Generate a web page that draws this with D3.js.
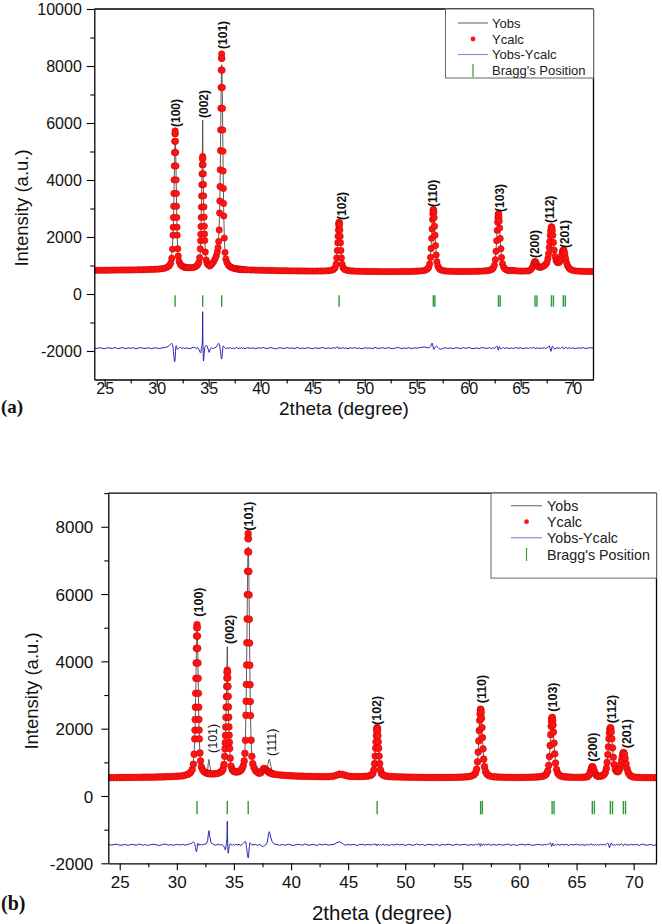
<!DOCTYPE html>
<html><head><meta charset="utf-8">
<script src="https://cdn.jsdelivr.net/npm/d3@7/dist/d3.min.js"></script>
<style>
body{margin:0;background:#fff;}
svg{display:block;font-family:"Liberation Sans",Arial,sans-serif;}
</style></head><body>
<svg id="chart" width="662" height="924"></svg>
<script>
// ---------------- DATA ----------------
const twoTheta = [
24,24.25,24.5,24.75,25,25.25,25.5,25.75,26,26.25,26.5,26.75,27,27.25,27.5,27.75,28,28.25,28.5,28.75,29,29.25,29.5,29.75,30,30.25,30.5,
30.75,31,31.2,31.35,31.45,31.52,31.57,
31.59,31.61,31.63,31.65,31.67,31.69,31.71,31.73,31.75,31.77,31.79,31.81,31.83,31.85,31.87,31.89,31.91,31.93,31.95,31.97,
32.02,32.07,32.15,32.27,32.4,32.55,32.7,32.76,32.82,32.88,33,33.2,33.4,33.6,33.8,33.95,34.05,34.13,34.19,
34.22,34.24,34.26,34.28,34.3,34.32,34.34,34.36,34.38,34.4,34.42,34.44,34.46,34.48,34.5,34.52,34.54,34.56,34.58,34.6,34.62,
34.67,34.75,34.85,34.95,35.05,35.15,35.3,35.45,35.6,35.72,35.82,35.9,35.96,36.01,
36.05,36.07,36.09,36.11,36.13,36.15,36.17,36.19,36.21,36.23,36.25,36.27,36.29,36.31,36.33,36.35,36.37,36.39,36.41,36.43,36.45,
36.5,36.57,36.65,36.75,36.9,37.05,37.2,37.35,37.5,37.6,37.7,37.8,37.9,37.98,38.04,38.1,38.16,38.24,38.35,38.5,38.7,39,
39.25,39.5,39.75,40,40.25,40.5,40.75,41,41.25,41.5,41.75,42,42.25,42.5,42.75,43,43.25,43.5,43.75,44,44.25,44.5,44.75,45,45.25,45.5,45.75,46,46.25,46.5,
46.75,47,47.15,47.25,47.32,47.37,47.41,47.44,47.47,47.5,47.52,47.54,47.56,47.58,47.61,47.64,47.67,47.71,47.76,47.83,47.92,48.05,48.2,48.4,48.6,48.8,
49,49.25,49.5,49.75,50,50.25,50.5,50.75,51,51.25,51.5,51.75,52,52.25,52.5,52.75,53,53.25,53.5,53.75,54,54.25,54.5,54.75,55,55.25,55.5,
55.75,56,56.15,56.25,56.33,56.39,56.44,56.48,56.52,56.55,56.58,56.6,56.62,56.65,56.68,56.72,56.76,56.81,56.87,56.94,57.03,57.15,57.3,57.5,57.75,58,
58.25,58.5,58.75,59,59.25,59.5,59.75,60,60.25,60.5,60.75,61,61.25,61.5,61.75,
62,62.2,62.35,62.47,62.56,62.63,62.69,62.74,62.78,62.81,62.84,62.86,62.88,62.91,62.94,62.98,63.03,63.09,63.16,63.25,63.36,63.5,63.7,63.9,
64.1,64.3,64.5,64.75,65,65.25,65.5,65.75,
65.95,66.1,66.2,66.28,66.34,66.38,66.42,66.48,66.56,66.65,66.75,66.85,66.95,67.1,67.25,
67.4,67.52,67.61,67.68,67.74,67.79,67.84,67.88,67.92,67.96,68,68.04,68.09,68.15,68.22,68.3,68.4,68.5,68.6,68.7,68.8,
68.88,68.95,69.01,69.06,69.1,69.14,69.19,69.25,69.33,69.42,69.52,69.65,69.8,70,
70.25,70.5,70.75,71,71.25,71.5,71.75,72
];

// panel (a) calculated intensity
const yCalcA = [
830,831,832,833,834,835,836,837,838,839,840,841,842,843,844,845,847,849,851,853,856,859,862,866,871,877,885,
905,935,991,1083,1252,1575,2065,
2346,2686,3079,3525,4005,4495,4965,5358,5625,5722,5625,5358,4965,4495,4005,3525,3079,2686,2346,2065,
1589,1332,1145,1043,988,955,938,935,932,930,923,922,927,940,973,1027,1111,1278,1586,
1869,2097,2371,2689,3049,3437,3833,4213,4531,4747,4825,4750,4535,4218,3840,3444,3057,2698,2381,2108,1881,
1473,1194,1077,1029,1004,993,1054,1119,1220,1332,1474,1628,1845,2249,
2846,3263,3770,4360,5033,5758,6519,7249,7859,8273,8424,8267,7853,7243,6513,5752,5007,4314,3704,3177,2740,
1962,1457,1228,1105,1010,960,930,910,895,888,882,876,871,868,866,864,862,859,856,852,848,843,
840,838,836,833,831,829,827,825,823,821,819,817,815,814,812,811,810,809,808,807,806,805,804,804,804,805,806,808,812,818,
828,860,917,1044,1264,1527,1801,2026,2243,2420,2492,2518,2492,2420,2243,2026,1801,1527,1264,1044,924,867,840,823,813,808,
805,800,797,795,793,791,790,789,788,787,786,786,785,785,785,785,786,786,787,788,789,790,792,796,800,805,813,
826,866,931,1051,1284,1596,1953,2285,2612,2815,2939,2965,2950,2860,2680,2380,2060,1700,1370,1130,980,895,850,823,808,801,
797,795,793,792,791,791,791,792,793,795,797,800,804,809,816,
832,860,906,1006,1204,1499,1869,2232,2515,2685,2788,2810,2800,2700,2560,2320,1950,1590,1280,1060,935,875,834,819,
830,826,814,806,803,803,805,810,
850,915,1000,1080,1125,1135,1128,1090,1025,970,945,935,940,962,990,
1040,1100,1240,1417,1630,1840,2056,2211,2319,2360,2330,2240,2060,1810,1540,1320,1175,1115,1098,1115,1170,
1260,1380,1480,1530,1545,1535,1490,1390,1240,1090,980,905,860,830,
812,803,798,795,793,792,791,790
];

// panel (a) Yobs - Ycalc (without plotting offset)
const residA = [
10,-15,20,-5,-20,15,5,-10,25,-15,0,20,-20,10,-5,15,-25,5,20,-10,-5,15,-20,10,5,-15,10,
20,40,90,140,170,120,40,
-40,-120,-200,-280,-350,-420,-470,-480,-450,-380,-260,-120,0,60,90,80,50,20,-10,-30,
-40,-20,10,25,-10,15,-20,5,20,-15,10,-25,15,30,-10,20,-40,-100,-160,
-170,-160,-120,-60,0,40,60,80,150,400,1280,350,-100,-330,-450,-420,-320,-200,-100,-30,20,
60,100,70,-40,-150,-30,10,-15,20,40,90,150,170,150,
120,60,0,-60,-120,-180,-240,-300,-340,-370,-380,-350,-290,-200,-100,-20,40,70,80,70,50,
30,10,-20,15,-10,20,-15,5,-20,10,25,-5,-20,15,0,-10,20,-15,10,-20,15,-5,
10,-20,15,-5,25,-15,0,20,-10,-25,15,5,-15,20,-5,10,-20,25,-10,5,-15,20,0,-20,15,-10,5,20,-15,10,
-10,15,-5,20,40,50,30,0,-20,-30,-20,0,20,30,25,10,-10,-20,-10,10,20,-15,10,-20,15,-5,
20,-10,5,-25,15,-5,10,-20,25,-10,0,15,-15,20,-5,-20,10,25,-15,5,-10,20,-20,10,0,15,30,
40,20,10,30,60,110,160,180,150,100,40,0,-30,-50,-40,-10,30,60,80,60,30,-20,-40,-10,15,-10,
10,-20,15,5,-15,20,-10,25,-5,-20,10,-15,20,5,-10,
15,-10,20,-20,10,50,80,60,10,-40,-70,-60,-20,30,60,40,0,-30,-20,10,20,-10,15,-20,
10,-15,20,-5,15,-20,10,-10,
20,-10,30,40,10,-20,-30,0,20,-15,10,-20,15,-10,20,
-15,10,30,60,80,40,-30,-90,-110,-60,20,70,60,20,-20,-30,0,20,-10,15,-20,
10,30,50,30,-10,-30,-20,10,30,10,-15,20,-10,15,
-20,10,-5,20,-15,5,15,-10
];

// panel (b) calculated intensity
const yCalcB = [
545,546,547,548,549,550,551,552,553,554,555,556,557,558,559,560,562,564,566,568,571,574,577,581,586,592,600,
621,648,700,786,943,1242,1697,
1958,2273,2638,3052,3497,3952,4388,4753,5001,5091,5001,4753,4388,3952,3497,3052,2638,2273,1958,1697,
1278,1039,865,770,719,688,672,670,667,665,658,657,662,674,705,736,803,935,1178,
1402,1582,1798,2049,2334,2640,2953,3253,3505,3675,3737,3677,3508,3257,2959,2646,2340,2056,1806,1590,1411,
1123,886,786,745,724,715,716,728,763,816,903,1042,1269,1655,
2399,2815,3315,3895,4553,5261,5984,6677,7257,7650,7794,7640,7250,6670,5975,5250,4545,3885,3305,2805,2390,
1657,1178,960,843,753,706,677,690,760,815,810,785,755,733,715,700,688,675,662,648,636,625,
618,612,606,601,597,593,590,587,584,582,580,578,577,576,575,575,576,580,592,620,648,640,612,592,582,577,575,576,579,584,
591,618,666,774,961,1185,1418,1609,1793,1944,2005,2027,2005,1944,1793,1609,1418,1185,961,774,672,624,601,586,578,574,
572,569,566,564,562,560,558,557,556,555,554,553,552,552,551,551,551,551,552,552,553,554,556,559,563,568,575,
588,625,686,797,1014,1304,1636,1945,2249,2438,2553,2577,2563,2480,2312,2033,1736,1401,1094,871,731,652,610,585,571,565,
561,558,556,554,553,552,552,552,553,554,556,558,561,565,571,
582,607,648,736,911,1172,1500,1821,2072,2222,2313,2333,2324,2235,2111,1899,1572,1253,979,784,673,620,584,571,
566,562,559,556,555,555,557,561,
575,625,705,795,850,870,858,810,730,655,612,592,585,590,605,
635,700,820,1000,1230,1460,1700,1870,1985,2030,2000,1900,1700,1430,1150,930,790,735,720,745,830,
930,1060,1180,1260,1290,1280,1230,1120,960,810,700,625,585,565,
556,551,548,546,545,545,544,544
];

// panel (b) Yobs - Ycalc (without plotting offset)
const residB = [
15,-10,5,20,-15,-5,10,-20,15,0,-10,25,-15,5,-20,10,15,-5,-25,10,20,-10,5,-15,15,-5,10,
-10,15,30,60,80,70,30,
0,-40,-80,-120,-160,-190,-210,-200,-170,-120,-60,0,40,50,30,10,-10,-20,-10,0,
15,-10,10,-5,15,20,120,330,420,250,60,10,-15,20,-10,15,-20,-60,-110,
-140,-150,-130,-90,-40,0,40,80,150,350,700,300,-50,-200,-250,-220,-160,-100,-50,-10,10,
30,10,-20,15,-10,20,-5,15,-20,10,40,70,100,90,
60,20,-30,-80,-140,-200,-260,-310,-350,-380,-390,-360,-300,-220,-130,-50,10,50,60,50,30,
10,-15,20,-10,15,-20,10,-5,-60,-40,-20,0,60,200,340,390,330,200,90,30,10,-15,
10,-15,20,-5,-20,15,5,-10,25,-15,0,10,-20,15,-5,20,-10,5,10,60,90,40,-15,10,-5,15,-20,5,10,-10,
15,-10,20,-5,15,30,10,-15,-25,-10,10,25,10,-10,-20,0,15,5,-10,10,-15,20,-10,5,-20,15,
-10,20,-5,15,-20,10,0,-15,25,-5,10,-20,15,5,-10,20,-25,10,-5,15,0,-15,20,-10,5,15,-20,
10,-15,20,5,-10,20,40,30,0,-30,-50,-30,10,40,30,0,-20,10,20,-10,15,-5,20,-15,10,-10,
15,-10,5,20,-15,10,-20,5,15,-10,20,-5,-15,10,5,
-10,15,-5,20,10,40,60,30,-20,-50,-40,0,30,50,20,-20,-30,0,15,-10,20,-15,10,-5,
15,-20,10,-5,20,-10,5,-15,
10,-15,20,30,0,-20,-10,15,-5,20,-15,10,-10,15,-5,
10,-10,20,40,50,20,-40,-90,-60,0,40,50,20,-10,-20,10,-15,20,-5,10,-15,
20,30,10,-20,-30,-10,20,30,0,-15,10,-10,15,-5,
10,-15,20,-5,-10,15,-20,5
];

const diffOffsetA = -1900;
const diffOffsetB = -1450;

// Bragg reflection positions (Kα1 and Kα2)
const braggA = [31.77,34.42,36.25,47.54,56.6,56.75,62.86,63.03,66.38,66.56,67.96,68.15,69.1,69.29];
const braggB = [31.77,34.42,36.25,47.54,56.6,56.75,62.86,63.03,66.38,66.56,67.96,68.15,69.1,69.29];

// peak labels
const hklA = ['(100)','(002)','(101)','(102)','(110)','(103)','(200)','(112)','(201)'];
const hklPosA = [31.86,34.48,36.38,47.82,56.57,63.01,66.38,67.82,69.26];
const hklValA = [5860,6175,8600,2600,3050,2880,1260,2490,1610];

const hklB = ['(100)','(101)','(002)','(101)','(111)','(102)','(110)','(103)','(200)','(112)','(201)'];
const hklPosB = [31.88,33.14,34.6,36.26,38.25,47.5,56.7,62.91,66.38,68.08,69.39];
const hklValB = [5328,1278,4517,7884,1189,2110,2755,2505,1019,2160,1418];

const xMajorTicks = [25,30,35,40,45,50,55,60,65,70];
const xMinorTicks = [27.5,32.5,37.5,42.5,47.5,52.5,57.5,62.5,67.5];
const yMajorTicksA = [-2000,0,2000,4000,6000,8000,10000];
const yMinorTicksA = [-1000,1000,3000,5000,7000,9000];
const yMajorTicksB = [-2000,0,2000,4000,6000,8000];
const yMinorTicksB = [-1000,1000,3000,5000,7000,9000];
const legendItems = ['Yobs','Ycalc','Yobs-Ycalc',"Bragg's Position"];

// ---------------- DRAW ----------------
const svg = d3.select('#chart');
const RED = '#ff1414', RED_EDGE = '#c80000', BLUE = '#2626b0', GREEN = '#2f9a3a', OBS = '#4a4a4a';

function drawPanel(c) {
  const x = d3.scaleLinear().domain([24, 72]).range([c.left, c.right]);
  const y = d3.scaleLinear().domain(c.yDomain).range([c.bottom, c.top]);
  const g = svg.append('g');

  const n = Math.min(twoTheta.length, c.calc.length, c.resid.length);
  const pts = d3.range(n).map(i => ({
    t: twoTheta[i], calc: c.calc[i], obs: c.calc[i] + c.resid[i], diff: c.diffOffset + c.resid[i]
  }));

  const clipId = 'clip' + c.id;
  svg.append('defs').append('clipPath').attr('id', clipId).append('rect')
    .attr('x', c.left).attr('y', c.top).attr('width', c.right - c.left).attr('height', c.bottom - c.top);
  const plot = g.append('g').attr('clip-path', `url(#${clipId})`);

  // Yobs line
  plot.append('path').datum(pts)
    .attr('d', d3.line().x(d => x(d.t)).y(d => y(d.obs)))
    .attr('fill', 'none').attr('stroke', OBS).attr('stroke-width', 0.9);
  // Ycalc markers
  plot.append('g').selectAll('circle').data(pts).join('circle')
    .attr('cx', d => x(d.t)).attr('cy', d => y(d.calc)).attr('r', c.dotR)
    .attr('fill', RED).attr('stroke', RED_EDGE).attr('stroke-width', 0.5);
  // difference curve
  plot.append('path').datum(pts)
    .attr('d', d3.line().x(d => x(d.t)).y(d => y(d.diff)))
    .attr('fill', 'none').attr('stroke', BLUE).attr('stroke-width', 1);
  // Bragg positions
  plot.append('g').selectAll('line').data(c.bragg).join('line')
    .attr('x1', d => x(d)).attr('x2', d => x(d))
    .attr('y1', y(c.braggRange[0])).attr('y2', y(c.braggRange[1]))
    .attr('stroke', GREEN).attr('stroke-width', 1.4);

  // peak labels
  g.append('g').selectAll('text').data(c.hkl).join('text')
    .attr('transform', (d, i) => `translate(${x(c.hklPos[i])},${y(c.hklVal[i])}) rotate(-90)`)
    .attr('dy', '0.36em').attr('text-anchor', 'start')
    .attr('font-size', c.hklFont).attr('fill', '#111')
    .attr('font-weight', (d, i) => c.hklLight && c.hklLight.includes(i) ? 'normal' : 'bold')
    .text(d => d);

  // frame (top & right)
  g.append('line').attr('x1', c.left).attr('x2', c.right).attr('y1', c.top).attr('y2', c.top)
    .attr('stroke', '#000').attr('stroke-width', 1.3);
  g.append('line').attr('x1', c.right).attr('x2', c.right).attr('y1', c.top).attr('y2', c.bottom)
    .attr('stroke', '#000').attr('stroke-width', 1.3);

  // x axis
  const xa = g.append('g').attr('transform', `translate(0,${c.bottom})`)
    .call(d3.axisBottom(x).tickValues(xMajorTicks).tickSize(c.majorTick).tickSizeOuter(0).tickFormat(d => String(d)));
  xa.selectAll('text').attr('y', c.xLabelOff).attr('dy', '0.36em').attr('font-size', c.tickFont)
    .attr('font-family', '"Liberation Sans",Arial,sans-serif').attr('fill', '#111');
  g.append('g').attr('transform', `translate(0,${c.bottom})`)
    .call(d3.axisBottom(x).tickValues(xMinorTicks).tickSize(c.minorTick).tickSizeOuter(0).tickFormat(''))
    .select('.domain').remove();
  // y axis
  const ya = g.append('g').attr('transform', `translate(${c.left},0)`)
    .call(d3.axisLeft(y).tickValues(c.yMajor).tickSize(c.majorTick).tickSizeOuter(0).tickFormat(d => String(d)));
  ya.selectAll('text').attr('x', -c.yLabelOff).attr('dy', '0.36em').attr('font-size', c.tickFont)
    .attr('font-family', '"Liberation Sans",Arial,sans-serif').attr('fill', '#111');
  g.append('g').attr('transform', `translate(${c.left},0)`)
    .call(d3.axisLeft(y).tickValues(c.yMinor).tickSize(c.minorTick).tickSizeOuter(0).tickFormat(''))
    .select('.domain').remove();
  g.selectAll('.domain').attr('stroke', '#000').attr('stroke-width', 1.3);
  g.selectAll('.tick line').attr('stroke', '#000').attr('stroke-width', 1.1);

  // axis titles
  g.append('text').attr('transform', `translate(${c.yTitle[0]},${c.yTitle[1]}) rotate(-90)`)
    .attr('text-anchor', 'middle').attr('dy', '0.36em').attr('font-size', c.titleFontY).attr('fill', '#111')
    .text('Intensity (a.u.)');
  g.append('text').attr('x', c.xTitle[0]).attr('y', c.xTitle[1])
    .attr('text-anchor', 'middle').attr('dy', '0.36em').attr('font-size', c.titleFontX).attr('fill', '#111')
    .text('2theta (degree)');
  g.append('text').attr('x', c.panelLabel[0]).attr('y', c.panelLabel[1]).attr('dy', '0.36em')
    .attr('font-family', '"Liberation Serif","Times New Roman",serif').attr('font-weight', 'bold')
    .attr('font-size', c.panelFont).attr('fill', '#111').text(c.panelText);

  // legend
  const L = c.legend;
  const lg = g.append('g');
  lg.append('rect').attr('x', L.x).attr('y', L.y).attr('width', L.w).attr('height', L.h)
    .attr('fill', '#fff').attr('stroke', '#666').attr('stroke-width', 1);
  legendItems.forEach((name, i) => {
    const yy = L.rows[i];
    if (i === 0) lg.append('line').attr('x1', L.lx1).attr('x2', L.lx2).attr('y1', yy).attr('y2', yy)
      .attr('stroke', '#7a7a7a').attr('stroke-width', 1.2);
    if (i === 1) lg.append('circle').attr('cx', (L.lx1 + L.lx2) / 2).attr('cy', yy).attr('r', 2.4).attr('fill', RED);
    if (i === 2) lg.append('line').attr('x1', L.lx1).attr('x2', L.lx2).attr('y1', yy).attr('y2', yy)
      .attr('stroke', '#8c8ce6').attr('stroke-width', 1.2);
    if (i === 3) lg.append('line').attr('x1', (L.lx1 + L.lx2) / 2).attr('x2', (L.lx1 + L.lx2) / 2)
      .attr('y1', yy - L.tickH / 2).attr('y2', yy + L.tickH / 2).attr('stroke', GREEN).attr('stroke-width', 1.2);
    lg.append('text').attr('x', L.tx).attr('y', yy).attr('dy', '0.36em').attr('font-size', L.font)
      .attr('fill', '#222').text(name);
  });
}

drawPanel({
  id: 'a', left: 94.3, right: 593.5, top: 9, bottom: 379.5, yDomain: [-3000, 10000],
  calc: yCalcA, resid: residA, diffOffset: diffOffsetA, bragg: braggA, braggRange: [-40, -450],
  hkl: hklA, hklPos: hklPosA, hklVal: hklValA, hklFont: 12, hklLight: [],
  yMajor: yMajorTicksA, yMinor: yMinorTicksA, majorTick: 7.5, minorTick: 4,
  tickFont: 16, xLabelOff: 9, yLabelOff: 12.5, dotR: 3.2,
  yTitle: [21, 208], titleFontY: 18.5, xTitle: [344, 408.5], titleFontX: 19,
  panelLabel: [1, 406], panelFont: 19, panelText: '(a)',
  legend: { x: 445.5, y: 9, w: 148, h: 69, rows: [23, 39, 54.5, 70.5], lx1: 458, lx2: 488, tx: 492, font: 13, tickH: 13 }
});

drawPanel({
  id: 'b', left: 108.3, right: 656.5, top: 493.1, bottom: 863.3, yDomain: [-2000, 9000],
  calc: yCalcB, resid: residB, diffOffset: diffOffsetB, bragg: braggB, braggRange: [-150, -540],
  hkl: hklB, hklPos: hklPosB, hklVal: hklValB, hklFont: 12.5, hklLight: [1, 4],
  yMajor: yMajorTicksB, yMinor: yMinorTicksB, majorTick: 7, minorTick: 4,
  tickFont: 17, xLabelOff: 19, yLabelOff: 15, dotR: 3.4,
  yTitle: [31, 691], titleFontY: 18.5, xTitle: [382, 913], titleFontX: 20.5,
  panelLabel: [1, 903], panelFont: 20, panelText: '(b)',
  legend: { x: 491, y: 493.1, w: 165.5, h: 85, rows: [505.7, 521.7, 537.7, 554.5], lx1: 511, lx2: 542, tx: 547, font: 14.3, tickH: 13 }
});
</script>
</body></html>
